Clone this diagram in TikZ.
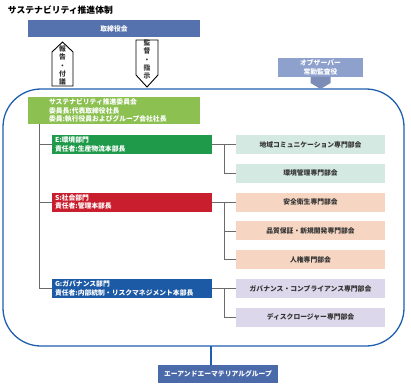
\documentclass[tikz,border=0pt]{standalone}
\usepackage{fontspec}
\setmainfont{Noto Sans CJK JP}
\definecolor{topblue}{HTML}{5572AE}
\definecolor{obsblue}{HTML}{8EA0CC}
\definecolor{obsarrow}{HTML}{7B8DB6}
\definecolor{comgreen}{HTML}{8CC152}
\definecolor{egreen}{HTML}{1F9A4A}
\definecolor{sred}{HTML}{C81E2E}
\definecolor{gblue}{HTML}{1C5AA6}
\definecolor{esub}{HTML}{D4E9E1}
\definecolor{ssub}{HTML}{F6D6C2}
\definecolor{gsub}{HTML}{DCD7EA}
\definecolor{grpblue}{HTML}{4B6AAA}
\definecolor{bordblue}{HTML}{1F5FAE}
\definecolor{conngray}{HTML}{6A6A6A}
\definecolor{subtext}{HTML}{333333}
\newcommand\myWfont{\fontsize{6.8}{8.4}\selectfont\bfseries}
\newcommand\mySfont{\fontsize{6.8}{8.4}\selectfont\bfseries}
\newcommand\myTfont{\fontsize{8.8}{10}\selectfont\bfseries}
\begin{document}
\begin{tikzpicture}[x=1pt,y=-1pt,
  every node/.style={inner sep=0pt, outer sep=0pt},
  colbox/.style={minimum width=160pt, minimum height=19pt},
  subbox/.style={minimum width=149pt, minimum height=19pt, text=subtext, font=\mySfont},
  wtxt/.style={text=white, font=\myWfont, align=left, anchor=west},
  conn/.style={draw=conngray, line width=0.8pt},
  bline/.style={draw=bordblue, line width=1.3pt},
  arrowshape/.style={draw=black, fill=white, line width=0.9pt, line join=miter},
  vtxt/.style={font=\mySfont, align=center, text=subtext}]
\useasboundingbox (0,0) rectangle (411,385);

% title
\node[font=\myTfont, anchor=west] (title) at (8,10) {サステナビリティ推進体制};

% board
\node[fill=topblue, minimum width=172pt, minimum height=17pt, text=white, font=\myWfont] (board) at (114,28.5) {取締役会};

% report / supervise arrows
\draw[arrowshape] (52,86) -- (52,52) -- (62.5,42) -- (73,52) -- (73,86) -- cycle;
\node[vtxt] (report) at (62.5,65.5) {報\\告\\・\\付\\議};
\draw[arrowshape] (136,40) -- (158,40) -- (158,75) -- (147,87) -- (136,75) -- cycle;
\node[vtxt] (supervise) at (147,59.5) {監\\督\\・\\指\\示};

% big rounded frame
\node[bline, rounded corners=38pt, minimum width=401pt, minimum height=257pt] (org) at (203.5,217.5) {};

% observer
\node[fill=obsblue, minimum width=85pt, minimum height=19pt, text=white, font=\myWfont, align=center] (obs) at (320.5,67.5) {オブザーバー\\常勤監査役};
\fill[obsarrow] ([xshift=-10pt]obs.south) -- ++(20,0) -- ++(0,6) -- ++(-10,6) -- ++(-10,-6) -- cycle;

% committee
\node[fill=comgreen, minimum width=172pt, minimum height=27pt] (com) at (114,110.5) {};
\node[wtxt] (comT) at ([xshift=21pt]com.west) {サステナビリティ推進委員会\\委員長:代表取締役社長\\委員:執行役員およびグループ会社社長};

% departments
\node[colbox, fill=egreen] (E) at (132,144.5) {};
\node[wtxt] (ET) at ([xshift=3pt]E.west) {E:環境部門\\責任者:生産物流本部長};
\node[colbox, fill=sred] (S) at (132,202.1) {};
\node[wtxt] (ST) at ([xshift=3pt]S.west) {S:社会部門\\責任者:管理本部長};
\node[colbox, fill=gblue] (G) at (132,288.5) {};
\node[wtxt] (GT) at ([xshift=3pt]G.west) {G:ガバナンス部門\\責任者:内部統制・リスクマネジメント本部長};

% sub committees
\node[subbox, fill=esub] (E1) at (310.5,144.5) {地域コミュニケーション専門部会};
\node[subbox, fill=esub] (E2) at (310.5,173.3) {環境管理専門部会};
\node[subbox, fill=ssub] (S1) at (310.5,202.1) {安全衛生専門部会};
\node[subbox, fill=ssub] (S2) at (310.5,230.9) {品質保証・新規開発専門部会};
\node[subbox, fill=ssub] (S3) at (310.5,259.7) {人権専門部会};
\node[subbox, fill=gsub] (G1) at (310.5,288.5) {ガバナンス・コンプライアンス専門部会};
\node[subbox, fill=gsub] (G2) at (310.5,317.3) {ディスクロージャー専門部会};

% trunk
\coordinate (trunk) at ([xshift=-75pt]com.south);
\draw[conn] (trunk) |- (G.west);
\draw[conn] (trunk |- E.west) -- (E.west);
\draw[conn] (trunk |- S.west) -- (S.west);

% branches
\coordinate (ej) at ([xshift=12pt]E.east);
\coordinate (sj) at ([xshift=12pt]S.east);
\coordinate (gj) at ([xshift=12pt]G.east);
\draw[conn] (E.east) -- (E1.west);
\draw[conn] (ej) |- (E2.west);
\draw[conn] (S.east) -- (S1.west);
\draw[conn] (sj) |- (S2.west);
\draw[conn] (sj) |- (S3.west);
\draw[conn] (G.east) -- (G1.west);
\draw[conn] (gj) |- (G2.west);

% group
\node[fill=grpblue, minimum width=120pt, minimum height=18pt, text=white, font=\myWfont] (grp) at (218,374) {エーアンドエーマテリアルグループ};
\draw[bline] ([xshift=-7pt]grp.north) -- ([xshift=-7pt]grp.north |- org.south);
\end{tikzpicture}
\end{document}
